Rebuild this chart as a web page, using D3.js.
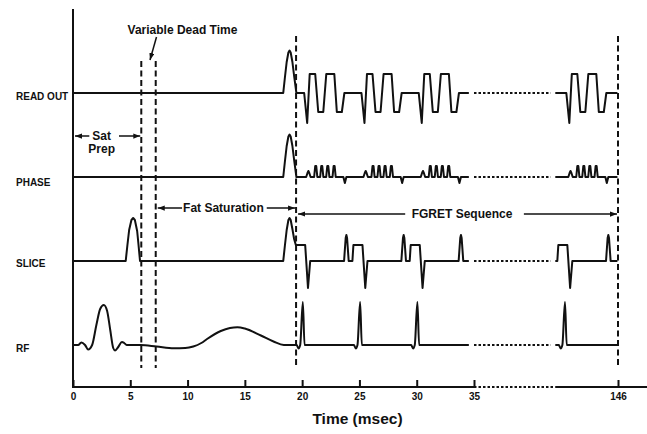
<!DOCTYPE html>
<html>
<head>
<meta charset="utf-8">
<script src="https://cdn.jsdelivr.net/npm/d3@7"></script>
<style>
  body { margin: 0; background: #fff; }
  svg { display: block; font-family: "Liberation Sans", Arial, sans-serif; }
</style>
</head>
<body>
<svg id="chart" width="647" height="434"></svg>
<script>
// ---- data (time in ms, amplitude in arbitrary units) ----
const channels = ['READ OUT', 'PHASE', 'SLICE', 'RF'];
const tickValues = [0, 5, 10, 15, 20, 25, 30, 35, 146];
const trTimes = [20.44, 25.44, 30.44, 141.73];          // readout start of each FGRET repetition
const markerTimes = [5.96, 7.22, 19.47, 146];           // dashed vertical lines

// one readout echo train (offsets from trTimes)
const readoutShape = [[-0.263, 0], [0, -3.0], [0.219, 1.9], [0.702, 1.9], [0.965, -1.9], [1.404, -1.9],
  [1.667, 1.9], [2.368, 1.9], [2.588, -1.9], [3.026, -1.9], [3.246, 0]];
// phase: prephase bump, four blips, rewinder
const phaseShape = [[-0.088, 0], [0.026, 0.4], [0.105, 0.6], [0.184, 0.4], [0.298, 0],
  [0.606, 0], [0.702, 1.1], [0.790, 1.1], [0.886, 0],
  [1.132, 0], [1.228, 1.1], [1.316, 1.1], [1.412, 0],
  [1.658, 0], [1.754, 1.1], [1.842, 1.1], [1.938, 0],
  [2.211, 0], [2.307, 1.1], [2.395, 1.1], [2.491, 0],
  [3.158, 0], [3.289, -0.6], [3.421, 0]];
// slice select plateau + refocus lobe, then crusher
const sliceShape = [[-1.053, 0], [-0.965, 1.6], [-0.175, 1.6], [0.070, -2.7], [0.263, 0]];
const crusherShape = [[3.219, 0], [3.360, 2.3], [3.421, 2.6], [3.482, 2.3], [3.623, 0]];
// RF excitation of each repetition
const rfShape = [[-0.92, 0], [-0.76, -0.35], [-0.61, 0], [-0.38, 4.3], [-0.23, 0]];

// one-off pulses (absolute times)
const spoiler = [[18.35, 0], [18.5, 1.6], [18.65, 3.1], [18.8, 4.05], [18.9, 4.25], [19.0, 4.05],
  [19.15, 3.1], [19.3, 1.7], [19.5, 0]];
const sliceSpoiler = [[18.35, 0], [18.5, 1.6], [18.65, 3.1], [18.8, 4.1], [18.9, 4.3], [19.0, 4.1],
  [19.15, 3.2], [19.3, 2.2], [19.45, 1.6]];
const satSlice = [[4.6, 0], [4.75, 1.6], [4.9, 3.1], [5.1, 4.1], [5.25, 4.3], [5.4, 4.1],
  [5.6, 3.0], [5.72, 1.6], [5.85, 0]];
const satRf = [[0, 0], [0.45, 0], [0.73, 0.25], [1.05, 0], [1.32, -0.45], [1.67, 0], [2.04, 2.0],
  [2.37, 3.6], [2.69, 4.0], [2.98, 3.4], [3.25, 1.5], [3.51, -0.3], [3.68, -0.55], [3.95, -0.2],
  [4.27, 0.3], [4.47, 0.2], [4.68, 0]];
const fatSatRf = [[5.9, 0], [7.3, -0.15], [8.8, -0.32], [9.8, -0.3], [10.5, -0.15], [11.2, 0.2],
  [11.7, 0.6], [12.9, 1.4], [13.7, 1.7], [14.35, 1.78], [15.0, 1.65], [16.4, 0.95], [17.5, 0.35], [18.4, 0]];

const spans = [
  { lines: ['Sat', 'Prep'], from: 0, to: 5.96 },
  { lines: ['Fat Saturation'], from: 7.22, to: 19.47 },
  { lines: ['FGRET Sequence'], from: 19.47, to: 146 }
];
const axisBreak = [35, 140.5];     // dotted part of the time axis
const traceBreak = [34.55, 35.0, 140.1, 140.5];   // solid end, dotted start/end, solid restart

// ---- layout ----
const svg = d3.select('#chart');
const x = d3.scaleLinear().domain([0, 35, 140, 146]).range([73, 474, 549.6, 618]);
const row = d3.scalePoint().domain(channels).range([93, 345]);
const amp = d3.scaleLinear().domain([0, 1]).range([0, -10]);
const axisY = 387;
const ink = '#111';

const shift = (shape, t) => shape.map(p => [p[0] + t, p[1]]);

const pulses = {
  'READ OUT': [spoiler, ...trTimes.map(t => shift(readoutShape, t))],
  'PHASE': [spoiler, ...trTimes.map(t => shift(phaseShape, t))],
  'SLICE': [satSlice, sliceSpoiler, ...trTimes.flatMap(t => [shift(sliceShape, t), shift(crusherShape, t)])],
  'RF': [satRf, fatSatRf, ...trTimes.map(t => shift(rfShape, t))]
};

function tracePoints(list) {
  const pts = [[0, 0]];
  list.slice().sort((a, b) => a[0][0] - b[0][0]).forEach(shape => {
    shape.forEach(p => { if (p[0] > pts[pts.length - 1][0]) pts.push(p); });
  });
  return pts;
}

// dashed markers
const markerExtent = [[61, 368], [61, 368], [36, 366], [36, 366]];
svg.append('g').selectAll('line').data(markerTimes).join('line')
  .attr('x1', d => x(d)).attr('x2', d => x(d))
  .attr('y1', (d, i) => markerExtent[i][0]).attr('y2', (d, i) => markerExtent[i][1])
  .attr('stroke', ink).attr('stroke-width', 2).attr('stroke-dasharray', '6,3.5');

// traces (gradients drawn straight, RF smoothed)
const gTr = svg.append('g').attr('fill', 'none').attr('stroke', ink).attr('stroke-width', 2)
  .attr('stroke-linejoin', 'round');
channels.forEach(ch => {
  const base = row(ch);
  const line = d3.line().x(d => x(d[0])).y(d => base + amp(d[1]))
    .curve(ch === 'RF' ? d3.curveMonotoneX : d3.curveLinear);
  const pts = tracePoints(pulses[ch]);
  const segA = pts.filter(p => p[0] < traceBreak[0]).concat([[traceBreak[0], 0]]);
  const segB = [[traceBreak[3], 0]].concat(pts.filter(p => p[0] > traceBreak[3]), [[145.95, 0]]);
  gTr.append('path').attr('d', line(segA));
  gTr.append('path').attr('d', line(segB));
  gTr.append('line').attr('x1', x(traceBreak[1])).attr('x2', x(traceBreak[2]))
    .attr('y1', base).attr('y2', base).attr('stroke-dasharray', '2.5,2');
});

// channel labels
const labelDy = [7, 9, 6, 7];
svg.append('g').selectAll('text').data(channels).join('text')
  .attr('x', 16).attr('y', (d, i) => row(d) + labelDy[i])
  .attr('font-size', 10).attr('font-weight', 'bold').attr('fill', ink)
  .text(d => d);

// axes
svg.append('line').attr('x1', 73).attr('x2', 73).attr('y1', 9).attr('y2', axisY + 1)
  .attr('stroke', ink).attr('stroke-width', 2);
const xAxis = d3.axisBottom(x).tickValues(tickValues).tickFormat(d3.format('d'))
  .tickSize(-7).tickSizeOuter(0).tickPadding(6);
const gx = svg.append('g').attr('transform', `translate(0,${axisY})`).call(xAxis);
gx.select('.domain').remove();
gx.selectAll('.tick line').attr('stroke', ink).attr('stroke-width', 2);
gx.selectAll('.tick text').attr('font-size', 10).attr('font-weight', 'bold')
  .attr('font-family', '"Liberation Sans", Arial, sans-serif').attr('fill', ink);
const gAxisLine = svg.append('g').attr('stroke', ink).attr('stroke-width', 2);
gAxisLine.append('line').attr('x1', x(0)).attr('x2', x(axisBreak[0])).attr('y1', axisY).attr('y2', axisY);
gAxisLine.append('line').attr('x1', x(axisBreak[0])).attr('x2', x(axisBreak[1])).attr('y1', axisY).attr('y2', axisY)
  .attr('stroke-dasharray', '2.5,2');
gAxisLine.append('line').attr('x1', x(axisBreak[1])).attr('x2', 647).attr('y1', axisY).attr('y2', axisY);

svg.append('text').attr('x', 357.5).attr('y', 424).attr('text-anchor', 'middle')
  .attr('font-size', 15.5).attr('font-weight', 'bold').attr('fill', ink).text('Time (msec)');

// arrowhead
svg.append('defs').append('marker').attr('id', 'head')
  .attr('viewBox', '0 0 8 6').attr('refX', 8).attr('refY', 3)
  .attr('markerWidth', 7).attr('markerHeight', 5.5).attr('markerUnits', 'userSpaceOnUse')
  .attr('orient', 'auto')
  .append('path').attr('d', 'M0,0L8,3L0,6Z').attr('fill', ink);

// span annotations
const spanLayout = [
  { dx: -5.5, y: 136, gapL: 3, gapR: 8, lead: 12.5 },
  { dx: -2.5, y: 208, gapL: 1, gapR: 3, lead: 0 },
  { dx: 5, y: 214, gapL: 6.5, gapR: 11.5, lead: 0 }
];
spans.forEach((s, i) => {
  const L = spanLayout[i];
  const cx = (x(s.from) + x(s.to)) / 2 + L.dx;
  const t = svg.append('text').attr('text-anchor', 'middle')
    .attr('font-size', 12).attr('font-weight', 'bold').attr('fill', ink);
  s.lines.forEach((ln, j) => {
    t.append('tspan').attr('x', cx).attr('y', L.y + 4 + j * L.lead).text(ln);
  });
  const firstW = t.select('tspan').node().getComputedTextLength();
  const g = svg.append('g').attr('stroke', ink).attr('stroke-width', 1.5);
  g.append('line').attr('x1', cx - firstW / 2 - L.gapL).attr('x2', x(s.from) + 2)
    .attr('y1', L.y).attr('y2', L.y).attr('marker-end', 'url(#head)');
  g.append('line').attr('x1', cx + firstW / 2 + L.gapR).attr('x2', x(s.to) - 1)
    .attr('y1', L.y).attr('y2', L.y).attr('marker-end', 'url(#head)');
});

// variable dead time label and pointer
const gapMid = x((markerTimes[0] + markerTimes[1]) / 2);
svg.append('text').attr('x', 182.5).attr('y', 34).attr('text-anchor', 'middle')
  .attr('font-size', 12).attr('font-weight', 'bold').attr('fill', ink).text('Variable Dead Time');
svg.append('line').attr('x1', gapMid + 8).attr('y1', 37).attr('x2', gapMid + 1.5).attr('y2', 60)
  .attr('stroke', ink).attr('stroke-width', 1.5).attr('marker-end', 'url(#head)');
</script>
</body>
</html>
